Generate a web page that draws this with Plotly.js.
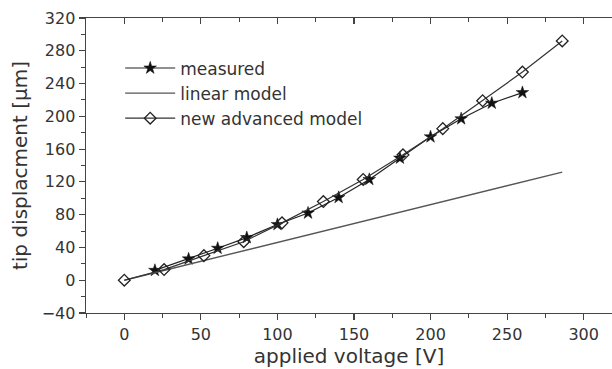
<!DOCTYPE html>
<html>
<head>
<meta charset="utf-8">
<script src="https://cdn.plot.ly/plotly-3.0.1.min.js"></script>
<style>html,body{margin:0;padding:0;background:#fff;}#chart{width:612px;height:369px;}</style>
</head>
<body>
<div id="chart"></div>
<script>
// measured
var measuredV = [20, 42, 61, 80, 100, 120, 140, 160, 180, 200, 220, 240, 260];
var measuredD = [12, 26, 39, 52, 68, 82, 101, 123, 149, 175, 197, 216, 229];
// linear model
var linearV = [0, 286];
var linearD = [0, 132];
// new advanced model
var advancedV = [0, 26, 52, 78, 103, 130, 156, 182, 208, 234, 260, 286];
var advancedD = [0, 13, 30, 47, 70, 96, 123, 153, 185, 219, 254, 292];

var seriesNames = ["measured", "linear model", "new advanced model"];
var xTitle = "applied voltage [V]";
var yTitle = "tip displacment [µm]";

var FONT = "DejaVu Sans, Arial, sans-serif";
var AX = "#444";

var traces = [
  {x: measuredV, y: measuredD, name: seriesNames[0], mode: "lines+markers",
   line: {color: "#222", width: 1.2},
   marker: {symbol: "star", size: 9.5, color: "#111", line: {color: "#111", width: 0.5}}},
  {x: linearV, y: linearD, name: seriesNames[1], mode: "lines",
   line: {color: "#555", width: 1.4}},
  {x: advancedV, y: advancedD, name: seriesNames[2], mode: "lines+markers",
   line: {color: "#333", width: 1.2},
   marker: {symbol: "diamond-open", size: 9, color: "#222", line: {color: "#222", width: 1.3}}},
  {x: linearV, y: linearD, xaxis: "x2", mode: "lines", showlegend: false, hoverinfo: "skip",
   line: {color: "rgba(0,0,0,0)", width: 0}}
];

var layout = {
  width: 612, height: 369,
  margin: {l: 86, r: 0, t: 18, b: 56, pad: 0},
  paper_bgcolor: "#fff", plot_bgcolor: "#fff",
  font: {family: FONT, color: "#333"},
  showlegend: true,
  legend: {x: 0.065, y: 0.89, xanchor: "left", yanchor: "top",
           bgcolor: "rgba(0,0,0,0)", borderwidth: 0,
           font: {family: FONT, size: 17, color: "#333"}, itemwidth: 50, tracegroupgap: 0},
  xaxis: {range: [-25, 318.5], showgrid: false, zeroline: false,
          showline: true, linecolor: AX, linewidth: 1.4, mirror: false,
          ticks: "outside", ticklen: 6, tickwidth: 1.2, tickcolor: AX,
          dtick: 50, tick0: 0,
          minor: {dtick: 25, tick0: 0, ticks: "outside", ticklen: 4, tickwidth: 1, tickcolor: AX},
          tickfont: {family: FONT, size: 16, color: "#333"},
          title: {text: xTitle, font: {family: FONT, size: 20, color: "#333"}, standoff: 5}},
  xaxis2: {overlaying: "x", side: "top", anchor: "y", range: [-25, 318.5],
           showgrid: false, zeroline: false, showline: true, linecolor: AX, linewidth: 1.4,
           ticks: "inside", ticklen: 6, tickwidth: 1.2, tickcolor: AX, showticklabels: false,
           dtick: 50, tick0: 0,
           minor: {dtick: 25, tick0: 0, ticks: "inside", ticklen: 4, tickwidth: 1, tickcolor: AX}},
  yaxis: {range: [-40, 320], showgrid: false, zeroline: false,
          showline: true, linecolor: AX, linewidth: 1.4,
          ticks: "outside", ticklen: 6, tickwidth: 1.2, tickcolor: AX,
          dtick: 40, tick0: 0,
          minor: {dtick: 20, tick0: 0, ticks: "outside", ticklen: 4, tickwidth: 1, tickcolor: AX},
          tickfont: {family: FONT, size: 16, color: "#333"},
          title: {text: yTitle, font: {family: FONT, size: 20, color: "#333"}, standoff: 8}}
};

Plotly.newPlot("chart", traces, layout, {displayModeBar: false, staticPlot: true});
</script>
</body>
</html>
